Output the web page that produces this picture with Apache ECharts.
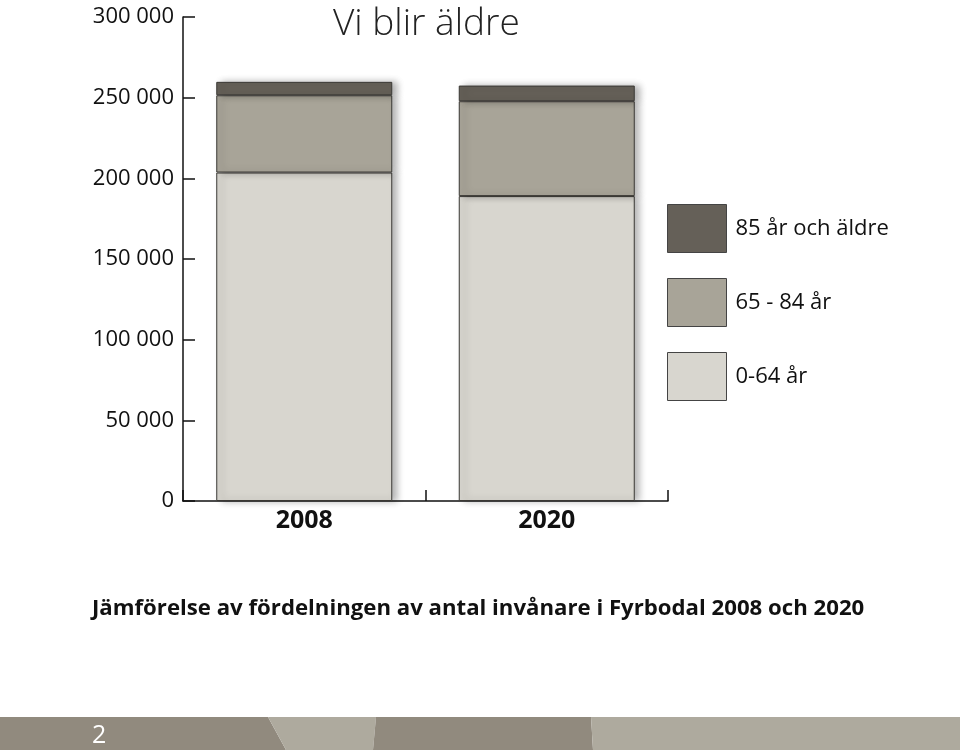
<!DOCTYPE html>
<html>
<head>
<meta charset="utf-8">
<script src="https://cdn.jsdelivr.net/npm/echarts@6/dist/echarts.min.js"></script>
<style>
html,body{margin:0;padding:0;background:#fff;}
#chart{width:960px;height:752px;}
</style>
</head>
<body>
<div id="chart"></div>
<script>
var categories = ['2008', '2020'];
var seriesNames = ['0-64 år', '65 - 84 år', '85 år och äldre'];
var values0to64 = [203600, 189000];
var values65to84 = [47900, 58800];
var values85plus = [8300, 9700];
var yTicks = [0, 50000, 100000, 150000, 200000, 250000, 300000];
var titleText = 'Vi blir äldre';
var captionText = 'Jämförelse av fördelningen av antal invånare i Fyrbodal 2008 och 2020';
var pageNumber = '2';

var colors = ['#d8d6cf', '#a8a498', '#656058'];
var font = '"Open Sans", "Noto Sans", sans-serif';

function fmt(v) {
  return String(v).replace(/\B(?=(\d{3})+(?!\d))/g, ' ');
}

var chart = echarts.init(document.getElementById('chart'), null, {renderer: 'canvas'});

function mkSeries(name, data, color) {
  return {
    name: name,
    type: 'bar',
    stack: 'total',
    data: data,
    barWidth: 176,
    itemStyle: {
      color: color,
      borderColor: '#3a3834',
      borderWidth: 1,
      shadowBlur: 7,
      shadowOffsetX: 5,
      shadowOffsetY: 0,
      shadowColor: 'rgba(0,0,0,0.30)'
    },
    emphasis: {disabled: true}
  };
}

var option = {
  animation: false,
  backgroundColor: '#ffffff',
  textStyle: {fontFamily: font},
  title: [
    {
      text: titleText,
      left: 328,
      top: 1,
      textStyle: {fontFamily: font, fontSize: 37, fontWeight: 300, color: '#222'}
    },
    {
      text: captionText,
      left: 87,
      top: 593,
      textStyle: {fontFamily: font, fontSize: 22.2, fontWeight: 'bold', color: '#111'}
    }
  ],
  legend: {
    orient: 'vertical',
    left: 667,
    top: 204,
    padding: 0,
    icon: 'rect',
    itemWidth: 59,
    itemHeight: 48,
    itemGap: 25,
    data: [seriesNames[2], seriesNames[1], seriesNames[0]],
    textStyle: {fontFamily: font, fontSize: 22, color: '#111', padding: [0, 0, 0, 4]},
    itemStyle: {shadowBlur: 0, shadowOffsetX: 0, borderColor: '#444', borderWidth: 1}
  },
  grid: {left: 183, right: 292, top: 17, bottom: 251, containLabel: false},
  xAxis: {
    type: 'category',
    data: categories,
    boundaryGap: true,
    axisLine: {show: true, lineStyle: {color: '#111', width: 1.5}},
    axisTick: {show: true, inside: true, length: 11, lineStyle: {color: '#111', width: 1.5}},
    axisLabel: {fontFamily: font, fontSize: 25, fontWeight: 'bold', color: '#111', margin: 7}
  },
  yAxis: {
    type: 'value',
    min: yTicks[0],
    max: yTicks[yTicks.length - 1],
    interval: yTicks[1] - yTicks[0],
    axisLine: {show: true, lineStyle: {color: '#111', width: 1.5}},
    axisTick: {show: true, inside: true, length: 12, lineStyle: {color: '#111', width: 1.5}},
    splitLine: {show: false},
    axisLabel: {fontFamily: font, fontSize: 22, color: '#111', margin: 9, formatter: fmt}
  },
  series: [
    mkSeries(seriesNames[0], values0to64, colors[0]),
    mkSeries(seriesNames[1], values65to84, colors[1]),
    mkSeries(seriesNames[2], values85plus, colors[2])
  ],
  graphic: [
    {type: 'polygon', silent: true, shape: {points: [[0,717],[268,717],[286,750],[0,750]]}, style: {fill: '#918a7e'}},
    {type: 'polygon', silent: true, shape: {points: [[268,717],[376,717],[373,750],[286,750]]}, style: {fill: '#aeaa9e'}},
    {type: 'polygon', silent: true, shape: {points: [[376,717],[591,717],[593,750],[373,750]]}, style: {fill: '#918a7e'}},
    {type: 'polygon', silent: true, shape: {points: [[591,717],[960,717],[960,750],[593,750]]}, style: {fill: '#aeaa9e'}},
    {type: 'text', silent: true, left: 92, top: 723, style: {text: pageNumber, fill: '#ffffff', font: '25px "Open Sans", sans-serif'}}
  ]
};

chart.setOption(option);
</script>
</body>
</html>
